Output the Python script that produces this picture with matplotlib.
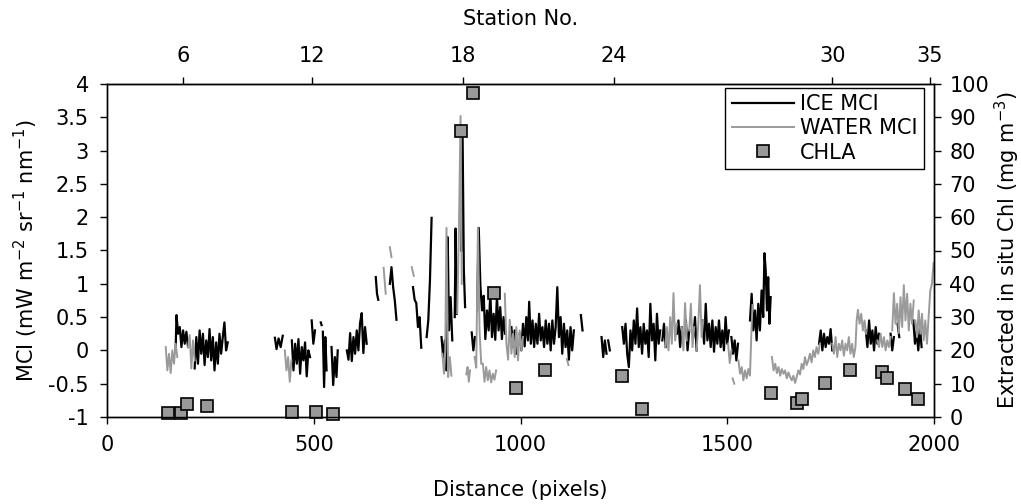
import numpy as np
import matplotlib.pyplot as plt
from matplotlib.ticker import FormatStrFormatter

plt.rcParams['font.family'] = ['DejaVu Sans']
plt.rcParams['axes.unicode_minus'] = False

# MCI along the transect, ice pixels (None = break in the track)
ice_dist = [
    166, 168, 172, 176, 180, 184, 188, 192, 196, None,
    212, 216, 220, 224, 228, 232, 236, 240, 244, 248, 252,
    256, 260, 264, 268, 272, 276, 280, 284, 288, 292, None,
    406, 410, 415, 420, 425, None,
    447, 451, 455, 459, 463, 467, 471, 475, 479, 483, 487, 491, None,
    495, 499, 503, None,
    517, 519, None,
    522, 525, 528, 531, None,
    543, 547, 551, 555, 558, None,
    580, 584, 588, 592, 596, 600, 604, 608, 612, 616, 620, 624, 628, None,
    650, 653, 656, None,
    684, 688, 692, 696, 700, None,
    740, 744, 748, 752, 756, 760, None,
    773, 777, 781, 785, None,
    809, 813, 817, 821, 824, 827, 831, 835, None,
    841, 843, 846, None,
    857, 860, 863, 866, None,
    882, 886, 890, None,
    895, 899, 903, 907, 911, 915, 919, 923, 927, 931, 935, 939, 943, 947, 951, 955, 959, 963, None,
    978, 982, 986, 990, None,
    998, 1002, 1006, 1010, 1014, 1018, 1021, 1025, 1029, 1033, 1037, 1041, 1045, 1049, 1053, 1057, 1061,
    1065, 1069, 1073, 1077, 1081, 1085, 1089, 1093, 1097, 1101, 1105, 1109, 1113, 1117, 1121, 1125, 1129, None,
    1146, 1150, None,
    1196, 1200, 1204, 1208, None,
    1212, 1216, None,
    1246, 1250, 1254, 1258, 1262, 1266, 1270, 1274, 1278, 1282, 1286, 1290,
    1294, 1298, 1302, 1306, 1310, 1314, 1318, 1322, 1326, 1330, 1334, 1338, None,
    1343, 1347, 1351, None,
    1378, 1382, 1386, 1390, None,
    1400, 1404, 1408, None,
    1418, 1422, 1426, None,
    1440, 1444, 1448, 1452, 1456, 1460, 1464, 1468, 1472, 1476, 1480, 1484, 1488, 1492, 1496, 1500, 1504, None,
    1510, 1514, 1518, 1522, 1526, None,
    1555, 1559, 1563, 1567, 1571, 1575, 1579, 1583, 1587, 1590, 1593, 1596, 1599, 1602, 1605, None,
    1722, 1726, 1730, 1734, 1738, 1742, 1746, 1750, 1754, None,
    1835, 1839, 1843, 1847, 1851, 1855, 1859, 1863, 1867, None,
    1895, 1899, 1903, None,
    1912, 1916, None,
    1950, 1954, 1958, 1962, 1966, 1970,
]
ice_mci = [
    0.00, 0.53, 0.25, 0.35, 0.05, 0.30, 0.10, 0.28, 0.05, None,
    -0.27, 0.20, -0.20, 0.30, -0.05, 0.25, -0.22, 0.15, -0.10, 0.32, -0.15,
    0.20, -0.30, 0.12, -0.20, 0.25, -0.05, 0.20, 0.42, 0.00, 0.12, None,
    0.19, 0.02, 0.18, 0.05, 0.22, None,
    0.15, -0.30, 0.10, -0.20, 0.17, -0.35, 0.05, -0.15, 0.12, -0.39, 0.00, -0.10, None,
    0.45, 0.10, 0.30, None,
    0.42, 0.38, None,
    0.28, -0.55, 0.20, -0.30, None,
    0.05, -0.52, -0.10, -0.40, 0.00, None,
    0.00, -0.14, 0.26, -0.16, 0.20, -0.05, 0.30, 0.00, 0.41, 0.56, -0.04, 0.35, 0.10, None,
    1.10, 0.85, 0.76, None,
    1.00, 1.25, 0.95, 0.75, 0.46, None,
    0.95, 0.76, 0.71, 0.35, 0.50, 0.04, None,
    0.20, 0.45, 1.05, 1.99, None,
    0.20, -0.10, 0.15, -0.30, 1.70, 0.30, 0.80, 0.15, None,
    0.50, 1.83, 0.55, None,
    1.50, 3.19, 1.20, 0.65, None,
    0.27, 0.00, 0.20, None,
    0.60, 1.84, 0.97, 0.60, 0.82, 0.17, 0.60, 0.30, 0.86, 0.20, 0.55, 0.16, 0.82, 0.30, 0.65, 0.17, 0.50, 0.25, None,
    0.35, 0.05, 0.30, -0.05, None,
    0.25, 0.00, 0.40, 0.06, 0.50, 0.15, 0.73, 0.10, 0.45, 0.05, 0.40, 0.10, 0.55, 0.15, 0.35, 0.05, 0.45,
    0.10, 0.40, 0.00, 0.45, 0.10, 0.35, 0.95, 0.20, 0.50, -0.05, 0.40, 0.05, 0.30, -0.14, 0.35, 0.00, 0.30, None,
    0.53, 0.30, None,
    0.20, -0.10, 0.15, -0.05, None,
    0.15, 0.00, None,
    0.35, 0.10, 0.40, -0.05, -0.25, 0.30, 0.00, 0.45, 0.10, 0.63, 0.05, 0.35,
    -0.05, 0.40, 0.10, 0.30, -0.10, 0.70, 0.15, 0.40, -0.15, 0.55, 0.10, 0.30, None,
    0.15, 0.40, 0.05, None,
    0.25, 0.45, 0.05, 0.35, None,
    0.45, 0.00, 0.30, None,
    0.20, 0.50, 0.00, None,
    0.45, 0.10, 0.70, 0.15, 0.40, 0.05, 0.45, -0.02, 0.35, 0.10, 0.45, 0.05, 0.30, 0.00, 0.50, 0.10, 0.30, None,
    0.20, -0.05, 0.15, -0.15, 0.10, None,
    0.45, 0.85, 0.30, 0.60, 0.15, 0.70, 0.30, 0.90, 0.50, 1.46, 1.20, 0.60, 1.10, 0.40, 0.80, None,
    0.10, 0.30, 0.00, 0.25, 0.05, 0.20, 0.10, 0.32, 0.00, None,
    0.30, 0.05, 0.45, 0.10, 0.30, 0.00, 0.35, 0.10, 0.25, None,
    0.25, 0.00, 0.20, None,
    0.40, 0.20, None,
    0.45, 0.10, 0.30, 0.00, 0.35, 0.05,
]

# MCI along the transect, open-water pixels
water_dist = [
    142, 146, 150, 154, 158, 162, 166, 170, None,
    196, 200, 204, 208, 212, None,
    430, 434, 438, 442, 446, None,
    669, 674, None,
    684, 688, None,
    737, 742, None,
    811, 815, 818, 821, 825, 829, 833, None,
    847, 851, 855, 858, None,
    869, 872, 875, 878, None,
    889, 893, 897, 901, 905, None,
    909, 913, 917, 921, 925, 929, 933, 937, 941, None,
    962, 966, 970, 974, 978, 982, 986, 990, 994, 998, 1002, 1006, None,
    1112, 1116, None,
    1350, 1354, 1358, 1362, 1366, 1370, 1374, 1378, None,
    1390, 1394, 1398, 1402, None,
    1408, 1412, 1416, 1420, None,
    1426, 1430, 1434, 1438, 1442, None,
    1502, 1506, 1510, None,
    1513, 1517, None,
    1527, 1531, 1535, 1539, 1543, 1547, 1551, 1555, 1558, 1561, None,
    1608, 1612, 1616, 1620, 1624, 1628, 1632, 1636, 1640, 1644,
    1648, 1652, 1656, 1660, 1664, 1668, 1672, 1676, 1680, 1684,
    1688, 1692, 1696, 1700, 1704, 1708, 1712, 1716, 1720, 1724, None,
    1754, 1758, 1762, 1766, 1770, 1774, 1778, 1782, 1786, 1790, 1794,
    1798, 1802, 1806, 1810, 1813, 1816, 1820, 1824, 1828, 1832, 1836, None,
    1863, 1867, 1871, 1875, 1879, 1883, 1887, 1891, 1895, None,
    1899, 1903, 1907, 1911, 1915, 1919, 1923, 1927, 1931, 1935, 1939, 1943, 1947, 1951, None,
    1955, 1959, 1963, 1967, 1971, 1975, 1979, 1983, 1987, 1991, 1995, 1999,
]
water_mci = [
    0.05, -0.30, -0.05, -0.34, 0.00, -0.20, 0.10, -0.10, None,
    0.05, 0.23, -0.27, 0.15, -0.15, None,
    0.00, -0.30, -0.10, -0.47, -0.15, None,
    1.24, 0.85, None,
    1.55, 1.40, None,
    1.25, 1.12, None,
    -0.05, -0.35, 0.00, 1.84, -0.40, -0.10, -0.38, None,
    0.56, 1.80, 3.52, 1.00, None,
    -0.36, -0.25, -0.47, -0.30, None,
    -0.10, -0.26, 1.84, 0.30, -0.20, None,
    -0.20, -0.47, -0.25, -0.45, -0.30, -0.48, -0.35, -0.44, -0.30, None,
    0.85, 0.10, -0.14, 0.46, -0.05, 0.25, -0.10, 0.35, -0.15, 0.30, 0.00, 0.20, None,
    -0.13, -0.22, None,
    0.05, 0.35, 0.00, 0.50, 0.10, 0.86, 0.15, 0.40, None,
    0.35, 0.00, 0.71, 0.15, None,
    0.30, 0.70, 0.05, 0.35, None,
    0.00, 0.40, 0.98, 0.20, 0.45, None,
    0.10, -0.19, 0.00, None,
    -0.42, -0.50, None,
    -0.15, -0.35, -0.25, -0.45, -0.30, -0.42, -0.28, -0.38, 0.20, 0.68, None,
    -0.10, -0.30, -0.20, -0.34, -0.25, -0.38, -0.28, -0.35, -0.30, -0.42,
    -0.33, -0.40, -0.45, -0.38, -0.49, -0.40, -0.30, -0.36, -0.20, -0.28,
    -0.10, -0.22, -0.15, -0.05, -0.18, 0.00, -0.10, 0.05, -0.05, 0.10, None,
    0.10, -0.05, 0.20, -0.10, 0.10, 0.00, 0.15, -0.08, 0.10, 0.00, 0.20,
    -0.05, 0.10, -0.10, 0.05, 0.45, 0.61, 0.40, 0.55, 0.30, 0.45, 0.25, None,
    0.15, 0.05, 0.25, 0.05, 0.20, 0.00, 0.15, 0.05, 0.20, None,
    0.30, 0.86, 0.40, 0.70, 0.26, 0.80, 0.35, 0.98, 0.45, 0.85, 0.30, 0.70, 0.40, 0.75, None,
    0.45, 0.20, 0.60, 0.25, 0.55, 0.15, 0.45, 0.10, 0.50, 0.90, 1.00, 1.31,
]

# extracted in situ chlorophyll at the stations (mg m-3)
chla_dist = [147, 179, 193, 242, 447, 505, 546, 855, 884, 937, 988, 1060,
             1246, 1295, 1606, 1669, 1681, 1737, 1797, 1874, 1886, 1930, 1961]
chla = [1.2, 1.2, 3.9, 3.3, 1.5, 1.5, 0.9, 85.9, 97.3, 37.2, 8.7, 14.1,
        12.3, 2.4, 7.2, 4.2, 5.4, 10.2, 14.1, 13.5, 11.7, 8.4, 5.4]

station_dist = [184, 495, 860, 1225, 1754, 1990]
station_no = ['6', '12', '18', '24', '30', '35']

fs = 15
fig = plt.figure(figsize=(10.21, 5.04), dpi=100)
ax = fig.add_axes([107 / 1021, 1 - 417 / 504, 827 / 1021, 333 / 504])

l_ice, = ax.plot(np.array(ice_dist, dtype=float), np.array(ice_mci, dtype=float),
                 color='black', lw=1.6, label='ICE MCI')
l_wat, = ax.plot(np.array(water_dist, dtype=float), np.array(water_mci, dtype=float),
                 color='#9a9a9a', lw=1.4, label='WATER MCI')
ax.set_xlim(0, 2000)
ax.set_ylim(-1, 4)
ax.set_xticks([0, 500, 1000, 1500, 2000])
ax.set_yticks(np.arange(-1, 4.01, 0.5))
ax.yaxis.set_major_formatter(FormatStrFormatter('%g'))
ax.tick_params(direction='out', length=5, width=1, pad=8, labelsize=fs)
ax.set_xlabel('Distance (pixels)', fontsize=fs, labelpad=18)
ax.set_ylabel('MCI (mW m$^{-2}$ sr$^{-1}$ nm$^{-1}$)', fontsize=fs, labelpad=6)

ax2 = ax.twinx()
l_chl, = ax2.plot(chla_dist, chla, 's', ms=9, mfc='#999999', mec='black', mew=1.2,
                  clip_on=False, label='CHLA')
ax2.set_ylim(0, 100)
ax2.set_yticks(range(0, 101, 10))
ax2.tick_params(direction='out', length=5, width=1, pad=6, labelsize=fs)
ax2.set_ylabel('Extracted in situ Chl (mg m$^{-3}$)', fontsize=fs, labelpad=3)

top = ax.secondary_xaxis('top')
top.set_xticks(station_dist, labels=station_no)
top.tick_params(direction='out', length=5, width=1, pad=8, labelsize=fs)
top.set_xlabel('Station No.', fontsize=fs, labelpad=15)

for a in (ax, ax2):
    for s in a.spines.values():
        s.set_linewidth(1)

leg = ax2.legend([l_ice, l_wat, l_chl], ['ICE MCI', 'WATER MCI', 'CHLA'],
                 loc='upper right', bbox_to_anchor=(924 / 1021, 1 - 88 / 504),
                 bbox_transform=fig.transFigure, borderaxespad=0, fontsize=fs,
                 fancybox=False, edgecolor='black', framealpha=1,
                 handlelength=3.0, handletextpad=0.3, borderpad=0.3, labelspacing=0.2)
leg.get_frame().set_linewidth(1)

fig.savefig('out.png', dpi=100)
